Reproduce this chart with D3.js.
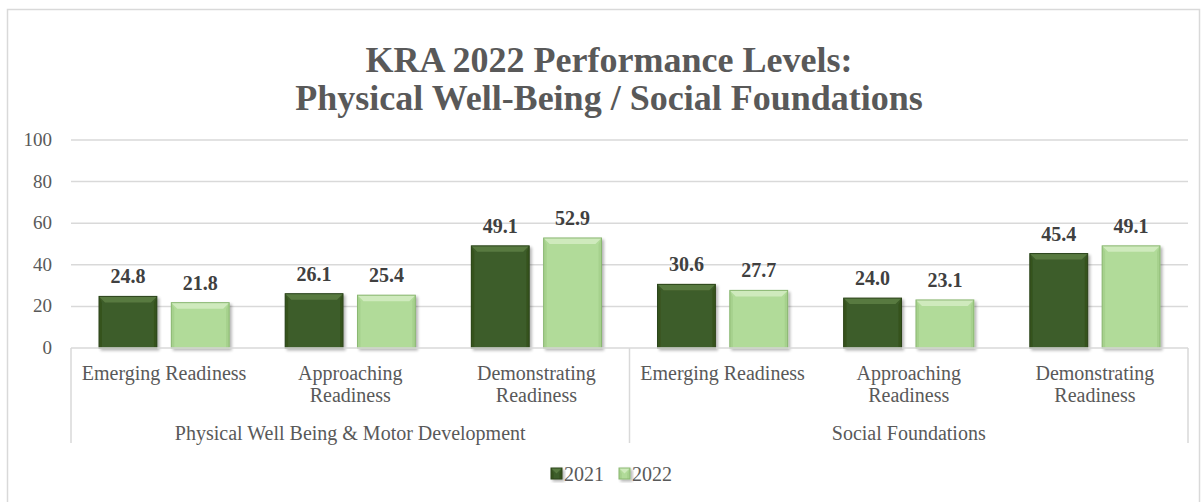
<!DOCTYPE html>
<html>
<head>
<meta charset="utf-8">
<script src="https://cdn.jsdelivr.net/npm/d3@7"></script>
<style>
  body { margin: 0; background: #fff; }
  text { font-family: "Liberation Serif", "Times New Roman", serif; }
</style>
</head>
<body>
<div id="chart"></div>
<script>
// data
var groups = ["Physical Well Being & Motor Development", "Social Foundations"];
var levels = ["Emerging Readiness", "Approaching\nReadiness", "Demonstrating\nReadiness"];
var years = ["2021", "2022"];
var values2021 = [24.8, 26.1, 49.1, 30.6, 24.0, 45.4];
var values2022 = [21.8, 25.4, 52.9, 27.7, 23.1, 49.1];
var yTicks = [0, 20, 40, 60, 80, 100];
var titleLines = ["KRA 2022 Performance Levels:", "Physical Well-Being / Social Foundations"];

var width = 1204, height = 502;
var plotLeft = 71, plotRight = 1188, plotTop = 140, plotBottom = 348;

var svg = d3.select("#chart").append("svg")
  .attr("width", width)
  .attr("height", height);

// chart frame
svg.append("rect")
  .attr("x", 7.5).attr("y", 9.5)
  .attr("width", 1192).attr("height", 500)
  .style("fill", "#fff")
  .style("stroke", "#d9d9d9")
  .style("stroke-width", "1.5px");

// title
svg.append("g").selectAll("text")
  .data(titleLines)
  .enter().append("text")
  .attr("x", 609)
  .attr("y", function(d, i) { return 72 + i * 38; })
  .attr("text-anchor", "middle")
  .style("font-size", "36px")
  .style("font-weight", "bold")
  .style("fill", "#595959")
  .text(function(d) { return d; });

// flat list of categories
var cats = [];
groups.forEach(function(g, gi) {
  levels.forEach(function(l, li) {
    cats.push({ id: gi + "-" + li, group: g, label: l, i: gi * levels.length + li });
  });
});

var x0 = d3.scaleBand()
  .domain(cats.map(function(d) { return d.id; }))
  .range([plotLeft, plotRight])
  .padding(0);

var x1 = d3.scaleBand()
  .domain(years)
  .range([28, x0.bandwidth() - 28])
  .paddingInner(0.2);

var y = d3.scaleLinear()
  .domain([0, 100])
  .range([plotBottom, plotTop]);

// gridlines
svg.append("g").selectAll("line")
  .data(yTicks.filter(function(d) { return d > 0; }))
  .enter().append("line")
  .attr("x1", plotLeft).attr("x2", plotRight)
  .attr("y1", function(d) { return y(d); })
  .attr("y2", function(d) { return y(d); })
  .style("stroke", "#d9d9d9")
  .style("stroke-width", "1.5px");

// y axis labels
svg.append("g").selectAll("text")
  .data(yTicks)
  .enter().append("text")
  .attr("x", 52)
  .attr("y", function(d) { return y(d) + 6; })
  .attr("text-anchor", "end")
  .style("font-size", "19px")
  .style("fill", "#595959")
  .text(function(d) { return d; });

// shadow
var defs = svg.append("defs");
var shadow = defs.append("filter").attr("id", "shadow")
  .attr("x", "-20%").attr("y", "-20%").attr("width", "150%").attr("height", "150%");
shadow.append("feGaussianBlur").attr("in", "SourceAlpha").attr("stdDeviation", 1.5);
shadow.append("feOffset").attr("dx", 2).attr("dy", 1.5).attr("result", "ob");
shadow.append("feComponentTransfer").append("feFuncA").attr("type", "linear").attr("slope", 0.3);
var merge = shadow.append("feMerge");
merge.append("feMergeNode");
merge.append("feMergeNode").attr("in", "SourceGraphic");

var palette = {
  "2021": { main: "#3e5d29", top: "#587a40", side: "#36531f", edge: "#2b441a" },
  "2022": { main: "#b1db99", top: "#cfeabd", side: "#a6d18d", edge: "#8ab771" }
};

function drawBevelBar(g, x, yTop, w, h, c) {
  var b = Math.min(6, h / 2, w / 2);
  var gg = g.append("g").attr("filter", "url(#shadow)");
  gg.append("rect")
    .attr("x", x).attr("y", yTop).attr("width", w).attr("height", h)
    .style("fill", c.main);
  // side bevels
  var sb = Math.min(3, w / 4);
  gg.append("polygon")
    .attr("points", [[x, yTop], [x + sb, yTop + b], [x + sb, yTop + h], [x, yTop + h]].join(" "))
    .style("fill", c.side);
  gg.append("polygon")
    .attr("points", [[x + w, yTop], [x + w - sb, yTop + b], [x + w - sb, yTop + h], [x + w, yTop + h]].join(" "))
    .style("fill", c.side);
  // top bevel
  gg.append("polygon")
    .attr("points", [[x, yTop], [x + w, yTop], [x + w - b, yTop + b], [x + b, yTop + b]].join(" "))
    .style("fill", c.top);
  gg.append("rect")
    .attr("x", x).attr("y", yTop).attr("width", w).attr("height", h)
    .style("fill", "none")
    .style("stroke", c.edge)
    .style("stroke-width", "1px");
}

var series = [
  { year: "2021", values: values2021 },
  { year: "2022", values: values2022 }
];

var barsG = svg.append("g").attr("class", "bars");
var labelsG = svg.append("g").attr("class", "labels");

series.forEach(function(s) {
  cats.forEach(function(c) {
    var v = s.values[c.i];
    var bx = x0(c.id) + x1(s.year);
    drawBevelBar(barsG, bx, y(v), x1.bandwidth(), y(0) - y(v), palette[s.year]);
    labelsG.append("text")
      .attr("x", bx + x1.bandwidth() / 2)
      .attr("y", y(v) - 13)
      .attr("text-anchor", "middle")
      .style("font-size", "20px")
      .style("font-weight", "bold")
      .style("fill", "#404040")
      .text(v.toFixed(1));
  });
});

// category axis box
var axisG = svg.append("g").style("stroke", "#d9d9d9").style("stroke-width", "1.5px");
axisG.append("line")
  .attr("x1", plotLeft).attr("x2", plotRight)
  .attr("y1", plotBottom).attr("y2", plotBottom);
var groupEdges = [plotLeft];
groups.forEach(function(g, gi) {
  groupEdges.push(x0(gi + "-" + (levels.length - 1)) + x0.bandwidth());
});
axisG.selectAll(".sep")
  .data(groupEdges)
  .enter().append("line")
  .attr("x1", function(d) { return d; })
  .attr("x2", function(d) { return d; })
  .attr("y1", plotBottom)
  .attr("y2", 443);

// level labels
var lvl = svg.append("g").selectAll("text")
  .data(cats)
  .enter().append("text")
  .attr("text-anchor", "middle")
  .style("font-size", "20px")
  .style("fill", "#595959");
lvl.each(function(d) {
  var t = d3.select(this);
  var cx = x0(d.id) + x0.bandwidth() / 2;
  d.label.split("\n").forEach(function(line, k) {
    t.append("tspan")
      .attr("x", cx)
      .attr("y", 380 + k * 22)
      .text(line);
  });
});

// group labels
svg.append("g").selectAll("text")
  .data(groups)
  .enter().append("text")
  .attr("x", function(d, gi) { return (groupEdges[gi] + groupEdges[gi + 1]) / 2; })
  .attr("y", 440)
  .attr("text-anchor", "middle")
  .style("font-size", "20px")
  .style("fill", "#595959")
  .text(function(d) { return d; });

// legend
var legendX = [551, 619];
var leg = svg.append("g").attr("class", "legend");
years.forEach(function(yr, i) {
  drawBevelBar(leg, legendX[i], 468, 11, 11, palette[yr]);
  leg.append("text")
    .attr("x", legendX[i] + 13)
    .attr("y", 481)
    .style("font-size", "20px")
    .style("fill", "#595959")
    .text(yr);
});
</script>
</body>
</html>
